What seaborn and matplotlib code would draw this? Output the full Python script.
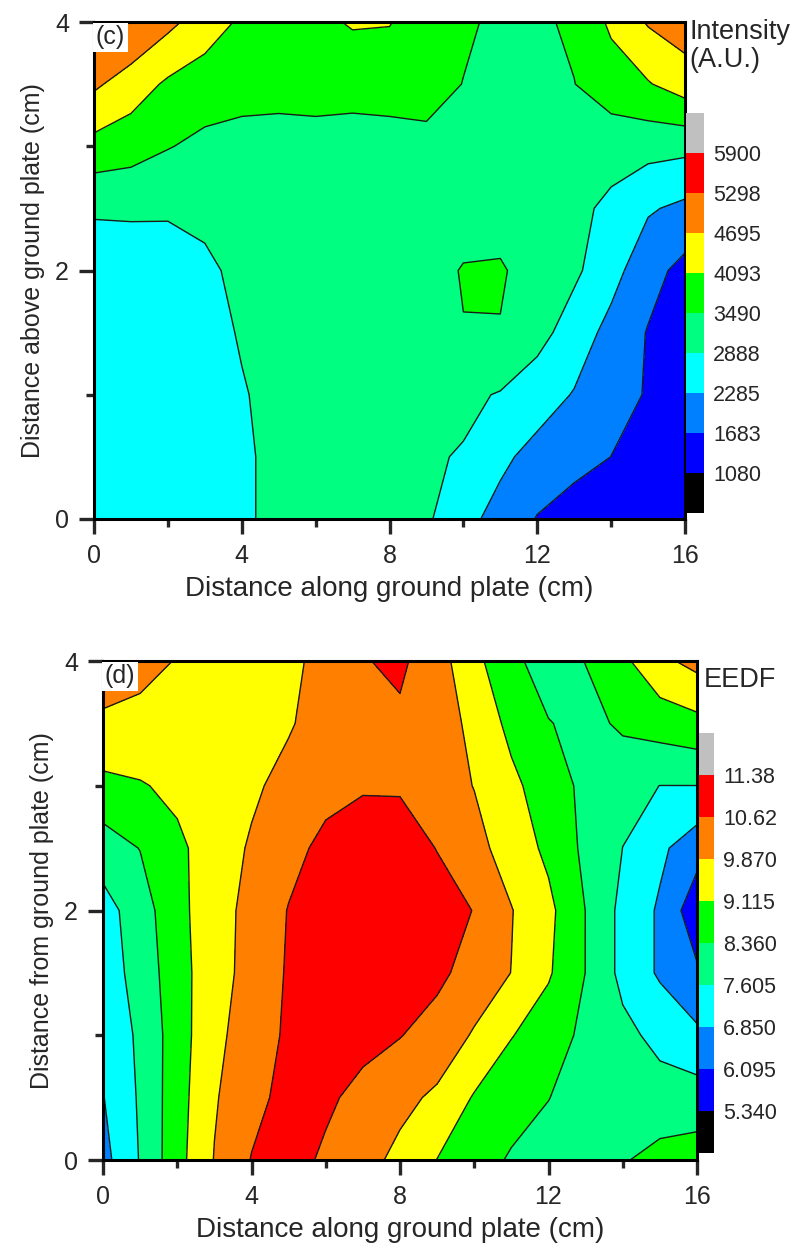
import numpy as np
import matplotlib
matplotlib.use("Agg")
import matplotlib.pyplot as plt
import seaborn as sns
from matplotlib.colors import ListedColormap
from matplotlib.ticker import MultipleLocator

# =============================
# DATA (grid)
# =============================
x_cm = np.arange(0, 17, 1.0)          # distance along ground plate
y_cm = np.arange(0, 4.5, 0.5)         # distance above ground plate

# intensity (A.U.), one row per y (0 ... 4 cm), columns x = 0 ... 16 cm
intensity = np.array([
    [2600, 2600, 2600, 2650, 2850, 2950, 3000, 3000, 3000, 2980, 2450, 2100, 1650, 1450, 1350, 1250, 1150],
    [2600, 2600, 2600, 2650, 2850, 2950, 3000, 3000, 3000, 2950, 2850, 2400, 2100, 1850, 1680, 1400, 1200],
    [2600, 2600, 2600, 2650, 2860, 3000, 3050, 3100, 3100, 3100, 3000, 2850, 2550, 2250, 1850, 1650, 1250],
    [2600, 2600, 2650, 2750, 2920, 3150, 3150, 3150, 3150, 3200, 3470, 3460, 3100, 2600, 2100, 1650, 1300],
    [2600, 2550, 2650, 2800, 3000, 3200, 3200, 3200, 3200, 3250, 3530, 3560, 3200, 3000, 2500, 1900, 1500],
    [2950, 2980, 2950, 3000, 3100, 3150, 3150, 3150, 3150, 3150, 3200, 3200, 3200, 3050, 2750, 2350, 2150],
    [3900, 3750, 3520, 3350, 3250, 3200, 3250, 3250, 3250, 3250, 3250, 3200, 3200, 3200, 3150, 3100, 3050],
    [4800, 4400, 4000, 3800, 3750, 3750, 3750, 3700, 3750, 3850, 3470, 3200, 3350, 3480, 3800, 4050, 4400],
    [5200, 5320, 4850, 4400, 4000, 3900, 3950, 4150, 4120, 3800, 3640, 3300, 3400, 3580, 4200, 4750, 5000],
])

# EEDF, same grid
eedf = np.array([
    [6.60, 7.65, 8.85, 9.90, 10.65, 10.90, 10.50, 10.10, 9.70, 9.10, 8.60, 8.30, 8.00, 7.90, 8.30, 8.60, 8.70],
    [6.82, 7.70, 8.80, 9.80, 10.40, 10.85, 10.75, 10.40, 10.05, 9.75, 9.05, 8.60, 8.38, 7.95, 7.80, 7.90, 7.95],
    [7.00, 7.75, 8.75, 9.70, 10.20, 10.75, 10.95, 10.85, 10.65, 10.30, 9.80, 9.15, 8.70, 8.20, 7.80, 7.40, 7.00],
    [7.20, 7.90, 8.80, 9.60, 10.10, 10.70, 11.00, 11.05, 11.00, 10.80, 10.30, 9.86, 9.20, 8.35, 7.40, 6.75, 6.20],
    [7.30, 8.00, 8.90, 9.55, 10.10, 10.65, 11.00, 11.10, 11.05, 10.90, 10.60, 9.90, 9.30, 8.35, 7.40, 6.75, 5.60],
    [8.00, 8.38, 8.95, 9.50, 9.95, 10.40, 10.80, 11.00, 10.95, 10.60, 10.10, 9.55, 8.95, 8.20, 7.60, 7.00, 6.40],
    [8.90, 9.05, 9.30, 9.50, 9.75, 10.10, 10.40, 10.55, 10.55, 10.20, 9.85, 9.30, 8.70, 8.20, 7.80, 7.60, 7.60],
    [9.80, 9.75, 9.50, 9.50, 9.60, 9.80, 10.20, 10.40, 10.50, 10.20, 9.70, 8.90, 8.40, 8.10, 8.50, 8.70, 8.90],
    [10.10, 10.00, 9.85, 9.50, 9.50, 9.70, 10.10, 10.58, 10.75, 10.20, 9.30, 8.60, 7.90, 8.38, 8.95, 9.70, 10.10],
])

intensity_levels = [1080, 1683, 2285, 2888, 3490, 4093, 4695, 5298, 5900]
intensity_labels = ["1080", "1683", "2285", "2888", "3490", "4093", "4695", "5298", "5900"]
eedf_levels = [5.340, 6.095, 6.850, 7.605, 8.360, 9.115, 9.870, 10.62, 11.38]
eedf_labels = ["5.340", "6.095", "6.850", "7.605", "8.360", "9.115", "9.870", "10.62", "11.38"]

# =============================
# STYLE
# =============================
sns.set_theme(style="ticks")
plt.rcParams['font.family'] = ['Liberation Sans', 'DejaVu Sans']
plt.rcParams['axes.linewidth'] = 2.2

band_colors = ["#0000ff", "#0080ff", "#00ffff", "#00ff80",
               "#00ff00", "#ffff00", "#ff8000", "#ff0000"]
cmap = ListedColormap(sns.color_palette(band_colors))
cmap.set_under("#000000")
cmap.set_over("#c0c0c0")

fig = plt.figure(figsize=(7.98, 12.52), dpi=100)

W, H = 798.0, 1252.0
def box(l, t, r, b):
    return [l / W, 1 - b / H, (r - l) / W, (b - t) / H]

panels = [
    dict(ax=box(94, 22, 685, 519), cax=box(686, 113, 704, 513), z=intensity,
         levels=intensity_levels, labels=intensity_labels, tag="(c)",
         ylabel="Distance above ground plate (cm)",
         title="Intensity\n(A.U.)", title_xy=(689, 19)),
    dict(ax=box(103, 661, 697, 1160), cax=box(699, 733, 714, 1153), z=eedf,
         levels=eedf_levels, labels=eedf_labels, tag="(d)",
         ylabel="Distance from ground plate (cm)",
         title="EEDF", title_xy=(704, 667)),
]

X, Y = np.meshgrid(x_cm, y_cm)

for p in panels:
    ax = fig.add_axes(p["ax"])
    cf = ax.contourf(X, Y, p["z"], levels=p["levels"], cmap=cmap, extend="both")
    ax.contour(X, Y, p["z"], levels=p["levels"], colors="k", linewidths=1.0)

    ax.set_xlim(0, 16)
    ax.set_ylim(0, 4)
    ax.xaxis.set_major_locator(MultipleLocator(4))
    ax.xaxis.set_minor_locator(MultipleLocator(2))
    ax.yaxis.set_major_locator(MultipleLocator(2))
    ax.yaxis.set_minor_locator(MultipleLocator(1))
    ax.tick_params(which="major", direction="out", length=11, width=2.4,
                   labelsize=18, pad=7, top=False, right=False)
    ax.tick_params(which="minor", direction="out", length=5.5, width=2.4,
                   top=False, right=False)
    for s in ax.spines.values():
        s.set_linewidth(2.2)
        s.set_color("black")
        s.set_zorder(5)

    ax.set_xlabel("Distance along ground plate (cm)", fontsize=20, labelpad=6)
    ax.set_ylabel(p["ylabel"], fontsize=18, labelpad=7)

    ax.text(0.003, 0.993, p["tag"], transform=ax.transAxes, ha="left", va="top",
            fontsize=18, zorder=6,
            bbox=dict(facecolor="white", edgecolor="none", pad=2))

    cax = fig.add_axes(p["cax"])
    cb = fig.colorbar(cf, cax=cax, extendrect=True, extendfrac=0.125,
                      ticks=p["levels"])
    cb.outline.set_visible(False)
    cb.ax.set_yticklabels(p["labels"])
    cb.ax.tick_params(length=0, labelsize=15.5, pad=6.5)

    fig.text(p["title_xy"][0] / W, 1 - p["title_xy"][1] / H, p["title"],
             ha="left", va="top", fontsize=19.5, linespacing=1.1)

fig.savefig("out.png", dpi=100)
